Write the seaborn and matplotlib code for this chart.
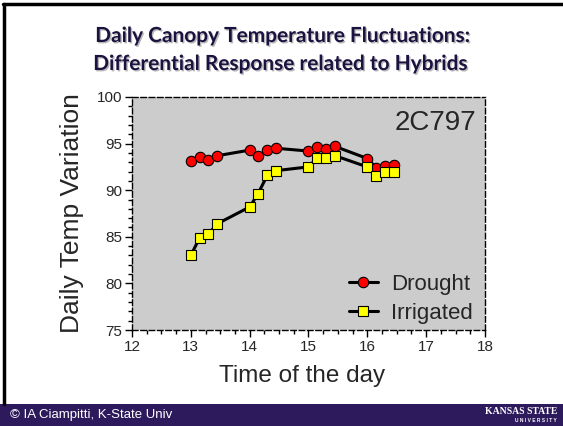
import matplotlib
matplotlib.use("Agg")
import matplotlib.pyplot as plt
import matplotlib.patheffects as pe
from matplotlib.ticker import MultipleLocator
import seaborn as sns
import pandas as pd

# Canopy temperature readings through the afternoon for hybrid 2C797
time_of_day = [13.0, 13.15, 13.3, 13.45, 14.0, 14.14, 14.3, 14.45,
               15.0, 15.15, 15.3, 15.45, 16.0, 16.15, 16.3, 16.45]
drought = [93.1, 93.6, 93.2, 93.7, 94.3, 93.7, 94.3, 94.5,
           94.2, 94.6, 94.4, 94.7, 93.4, 92.4, 92.6, 92.7]
irrigated = [83.0, 84.9, 85.3, 86.4, 88.2, 89.6, 91.6, 92.1,
             92.5, 93.5, 93.5, 93.7, 92.5, 91.5, 92.0, 91.9]
series_names = ["Drought", "Irrigated"]
x_ticks = [12, 13, 14, 15, 16, 17, 18]
y_ticks = [75, 80, 85, 90, 95, 100]

df = pd.DataFrame({"time": time_of_day, "Drought": drought, "Irrigated": irrigated})

sns.set_style("white")
plt.rcParams["font.family"] = ["Liberation Sans", "DejaVu Sans"]

W, H = 563, 426
fig = plt.figure(figsize=(W / 100, H / 100), dpi=100)
fig.patch.set_facecolor("white")

ax = fig.add_axes([132 / W, 1 - 330 / H, (485 - 132) / W, (330 - 97) / H])
ax.set_facecolor("#cccccc")

sns.lineplot(data=df, x="time", y="Drought", ax=ax, sort=False, color="black",
             lw=2.2, marker="o", markersize=7.5, markerfacecolor="#ff0000",
             markeredgecolor="black", markeredgewidth=0.8, label=series_names[0])
sns.lineplot(data=df, x="time", y="Irrigated", ax=ax, sort=False, color="black",
             lw=2.2, marker="s", markersize=7, markerfacecolor="#ffff00",
             markeredgecolor="black", markeredgewidth=0.8, label=series_names[1])

ax.set_xlim(12, 18)
ax.set_ylim(75, 100)
ax.set_xticks(x_ticks)
ax.set_yticks(y_ticks)
ax.xaxis.set_minor_locator(MultipleLocator(0.25))
ax.yaxis.set_minor_locator(MultipleLocator(1))
ax.tick_params(which="major", direction="out", length=5, width=1, color="black",
               labelsize=11, pad=2, bottom=True, left=True)
ax.tick_params(which="minor", direction="out", length=3, width=1, color="black",
               bottom=True, left=True)
for s in ax.spines.values():
    s.set_visible(True)
    s.set_color("black")
    s.set_linewidth(1)
    s.set_linestyle((0, (4, 2)))

ax.set_xlabel("Time of the day", fontsize=17.5)
ax.set_ylabel("Daily Temp Variation", fontsize=19, labelpad=9)
ax.xaxis.set_label_coords(0.483, -0.15)

ax.text(0.975, 0.945, "2C797", transform=ax.transAxes, ha="right", va="top",
        fontsize=20)

leg = ax.legend(loc="lower right", bbox_to_anchor=(1.0, -0.025), frameon=False,
                fontsize=16, handlelength=1.3, handletextpad=0.6,
                labelspacing=0.35, borderaxespad=0.15)

# Slide title
title_kw = dict(ha="center", va="center", fontsize=15, fontweight="bold",
                color="#1c1240", family=["Lato", "DejaVu Sans"],
                path_effects=[pe.withSimplePatchShadow(offset=(1, -1),
                                                       shadow_rgbFace="#888888",
                                                       alpha=0.6)])
fig.text(283 / W, 1 - 36 / H, "Daily Canopy Temperature Fluctuations:", **title_kw)
fig.text(281 / W, 1 - 64 / H, "Differential Response related to Hybrids", **title_kw)

# Slide frame lines on the left and top
fig.add_artist(plt.Line2D([4 / W, 4 / W], [1 - 4 / H, 1 - 404 / H], color="black",
                          lw=2.5, transform=fig.transFigure))
fig.add_artist(plt.Line2D([3 / W, 1.0], [1 - 4 / H, 1 - 4 / H], color="black",
                          lw=2.5, transform=fig.transFigure))

# Footer bar
fig.add_artist(plt.Rectangle((0, 0), 1, 22 / H, transform=fig.transFigure,
                             facecolor="#2d1a5c", edgecolor="none"))
fig.text(10 / W, 11 / H, "© IA Ciampitti, K-State Univ", color="white",
         fontsize=9.5, ha="left", va="center")
fig.text(557 / W, 15 / H, "KANSAS STATE", color="white", fontsize=7,
         fontweight="bold", family=["Liberation Serif", "DejaVu Serif"],
         ha="right", va="center")
fig.text(557 / W, 6 / H, "U N I V E R S I T Y", color="white", fontsize=3.5,
         fontweight="bold", ha="right", va="center")

fig.savefig("out.png", dpi=100)
